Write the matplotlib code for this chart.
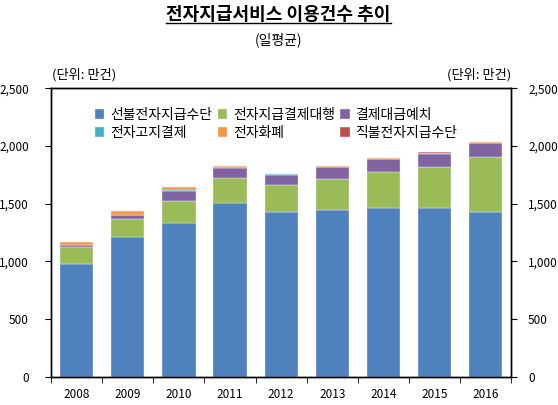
import numpy as np
import matplotlib
matplotlib.use('Agg')
from matplotlib import pyplot as plt
from matplotlib.lines import Line2D

plt.rcParams['font.family'] = ['Noto Sans CJK KR', 'DejaVu Sans']

years = ['2008', '2009', '2010', '2011', '2012', '2013', '2014', '2015', '2016']
# 일평균 이용건수 (만건)
prepaid = [980, 1210, 1330, 1510, 1425, 1450, 1465, 1460, 1425]
pg = [145, 160, 195, 215, 240, 265, 310, 360, 485]
escrow = [15, 30, 85, 85, 85, 100, 110, 115, 115]
ebpp = [5, 5, 8, 8, 5, 6, 4, 4, 3]
emoney = [25, 30, 25, 12, 5, 3, 4, 4, 4]
debit = [0, 0, 0, 0, 0, 5, 7, 8, 7]

names = ['선불전자지급수단', '전자지급결제대행', '결제대금예치',
         '전자고지결제', '전자화폐', '직불전자지급수단']
colors = ['#4F81BD', '#9BBB59', '#8064A2', '#4BACC6', '#F79646', '#C0504D']
series = [prepaid, pg, escrow, ebpp, emoney, debit]

fig = plt.figure(figsize=(5.58, 4.05), dpi=100)
ax = fig.add_axes([0.0914, 0.0699, 0.8251, 0.7116])

x = np.arange(len(years))
bottom = np.zeros(len(years))
bars = []
for vals, col, nm in zip(series, colors, names):
    b = ax.bar(x, vals, 0.65, bottom=bottom, color=col, edgecolor='#e4ebf3',
               linewidth=0.3, label=nm)
    bars.append(b)
    bottom += np.array(vals)

ax.set_xlim(-0.5, len(years) - 0.5)
ax.set_ylim(0, 2500)
ax.set_yticks(range(0, 2501, 500))
ax.set_yticklabels(['{:,}'.format(v) for v in range(0, 2501, 500)], fontsize=8.5)
ax.set_xticks(x)
ax.set_xticklabels(years, fontsize=8.5)
ax.tick_params(axis='x', length=0, pad=8)
ax.set_xticks(np.arange(-0.5, len(years), 1), minor=True)
ax.tick_params(axis='x', which='minor', length=4, direction='out')
ax.tick_params(axis='y', length=4, direction='out', pad=12)
for s in ax.spines.values():
    s.set_linewidth(1.0)

ax2 = ax.twinx()
ax2.set_ylim(0, 2500)
ax2.set_yticks(range(0, 2501, 500))
ax2.set_yticklabels(['{:,}'.format(v) for v in range(0, 2501, 500)], fontsize=8.5)
ax2.tick_params(axis='y', length=4, direction='out', pad=8)
for s in ax2.spines.values():
    s.set_linewidth(1.0)

# legend fills column-wise, so reorder to get rows like the original
order = [0, 3, 1, 4, 2, 5]
leg = ax.legend([bars[i] for i in order], [names[i] for i in order], ncol=3,
                loc='center', bbox_to_anchor=(0.489, 0.877), frameon=False,
                fontsize=10, handlelength=0.7, handleheight=0.7,
                handletextpad=0.4, columnspacing=0.4, labelspacing=0.25)

title = fig.text(0.499, 0.963, '전자지급서비스 이용건수 추이', ha='center',
                 va='center', fontsize=13, fontweight='bold')
fig.text(0.499, 0.901, '(일평균)', ha='center', va='center', fontsize=10)
fig.text(0.093, 0.815, '(단위: 만건)', ha='left', va='center', fontsize=9.5)
fig.text(0.916, 0.815, '(단위: 만건)', ha='right', va='center', fontsize=9.5)

# underline under the title
fig.canvas.draw()
bb = title.get_window_extent().transformed(fig.transFigure.inverted())
fig.add_artist(Line2D([bb.x0, bb.x1], [0.943, 0.943], color='black', lw=1.0))

fig.savefig('out.png', dpi=100)
